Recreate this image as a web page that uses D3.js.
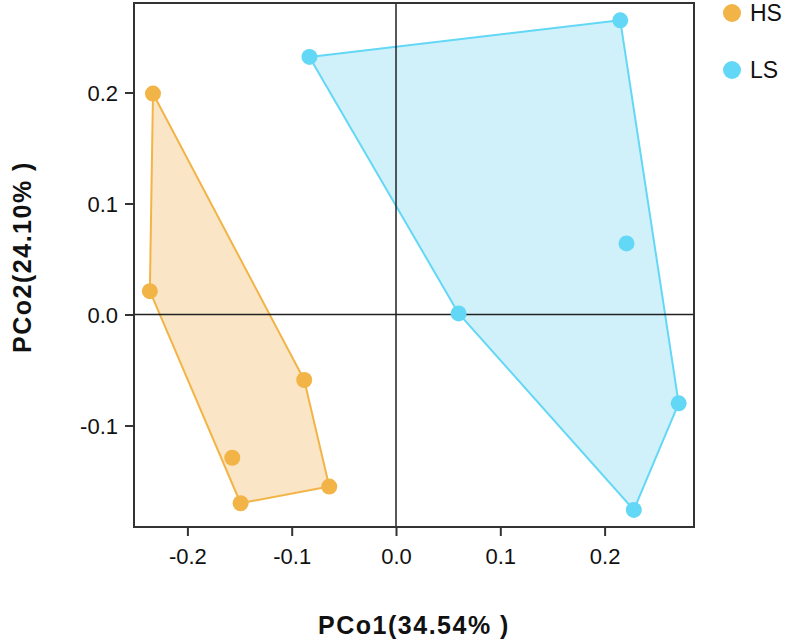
<!DOCTYPE html>
<html>
<head>
<meta charset="utf-8">
<script src="https://cdn.jsdelivr.net/npm/d3@7"></script>
<style>
  body { margin: 0; background: #fff; }
  text { font-family: "Liberation Sans", Arial, sans-serif; }
</style>
</head>
<body>
<div id="chart"></div>
<script>
// Data
var groups = ["HS", "LS"];
var colors = ["#F2B447", "#63D7F6"];
var fills = ["#FAE6C6", "#D1F1FA"];

var hsX = [-0.233, -0.236, -0.088, -0.157, -0.149, -0.064];
var hsY = [0.199, 0.021, -0.059, -0.129, -0.170, -0.155];
var lsX = [-0.083, 0.215, 0.221, 0.060, 0.271, 0.228];
var lsY = [0.232, 0.265, 0.064, 0.001, -0.080, -0.176];

var xTicks = [-0.2, -0.1, 0.0, 0.1, 0.2];
var yTicks = [-0.1, 0.0, 0.1, 0.2];

// Set up our chart
var svgWidth = 792;
var svgHeight = 643;
var margin = { top: 3, right: 98, bottom: 116, left: 134 };
var width = svgWidth - margin.left - margin.right;
var height = svgHeight - margin.top - margin.bottom;

var svg = d3
  .select("#chart")
  .append("svg")
  .attr("width", svgWidth)
  .attr("height", svgHeight);

var chartGroup = svg
  .append("g")
  .attr("transform", `translate(${margin.left}, ${margin.top})`);

var xScale = d3.scaleLinear().domain([-0.2512, 0.2857]).range([0, width]);
var yScale = d3.scaleLinear().domain([-0.1914, 0.2806]).range([height, 0]);

var series = [
  hsX.map((x, i) => [x, hsY[i]]),
  lsX.map((x, i) => [x, lsY[i]]),
];

// hull polygons
series.forEach(function (pts, g) {
  var hull = d3.polygonHull(pts);
  chartGroup
    .append("path")
    .attr("d", "M" + hull.map((p) => [xScale(p[0]), yScale(p[1])]).join("L") + "Z")
    .attr("fill", fills[g])
    .attr("stroke", colors[g])
    .attr("stroke-width", 2)
    .attr("stroke-linejoin", "round");
});

// zero lines
chartGroup
  .append("line")
  .attr("x1", 0).attr("x2", width)
  .attr("y1", yScale(0)).attr("y2", yScale(0))
  .attr("stroke", "#222").attr("stroke-width", 1.5);
chartGroup
  .append("line")
  .attr("x1", xScale(0)).attr("x2", xScale(0))
  .attr("y1", 0).attr("y2", height)
  .attr("stroke", "#222").attr("stroke-width", 1.5);

// points
series.forEach(function (pts, g) {
  chartGroup
    .selectAll(".pt" + g)
    .data(pts)
    .enter()
    .append("circle")
    .attr("cx", (d) => xScale(d[0]))
    .attr("cy", (d) => yScale(d[1]))
    .attr("r", 8)
    .attr("fill", colors[g]);
});

// frame
chartGroup
  .append("rect")
  .attr("width", width)
  .attr("height", height)
  .attr("fill", "none")
  .attr("stroke", "#333")
  .attr("stroke-width", 2);

// axes (plain hyphen for negatives, like the original)
var fmt = (d) => d.toFixed(1);
var bottomAxis = d3.axisBottom(xScale).tickValues(xTicks).tickFormat(fmt).tickSize(9).tickPadding(7);
var leftAxis = d3.axisLeft(yScale).tickValues(yTicks).tickFormat(fmt).tickSize(9).tickPadding(7);

var xAxis = chartGroup.append("g").attr("transform", `translate(0, ${height})`).call(bottomAxis);
var yAxis = chartGroup.append("g").call(leftAxis);

[xAxis, yAxis].forEach(function (ax) {
  ax.select(".domain").remove();
  ax.selectAll("line").attr("stroke", "#333").attr("stroke-width", 2);
  ax.selectAll("text")
    .attr("fill", "#111")
    .style("font-size", "22px")
    .style("font-family", "Liberation Sans, Arial, sans-serif");
});
xAxis.selectAll("text").attr("dy", "0.95em");
yAxis.selectAll("text").attr("dy", "0.35em");

// axis titles
svg
  .append("text")
  .attr("x", margin.left + width / 2)
  .attr("y", 634)
  .attr("text-anchor", "middle")
  .style("font-size", "25px")
  .style("font-weight", "bold")
  .style("letter-spacing", "1.5px")
  .attr("fill", "#111")
  .text("PCo1(34.54% )");

svg
  .append("text")
  .attr("transform", "rotate(-90)")
  .attr("x", -257)
  .attr("y", 31)
  .attr("text-anchor", "middle")
  .style("font-size", "25px")
  .style("font-weight", "bold")
  .style("letter-spacing", "1.5px")
  .attr("fill", "#111")
  .text("PCo2(24.10% )");

// legend
var legend = svg.append("g").attr("transform", "translate(732, 13)");
groups.forEach(function (name, i) {
  legend
    .append("circle")
    .attr("cx", 0)
    .attr("cy", i * 57)
    .attr("r", 9)
    .attr("fill", colors[i]);
  legend
    .append("text")
    .attr("x", 18)
    .attr("y", i * 57)
    .attr("dy", "0.36em")
    .style("font-size", "23px")
    .attr("fill", "#111")
    .text(name);
});
</script>
</body>
</html>
